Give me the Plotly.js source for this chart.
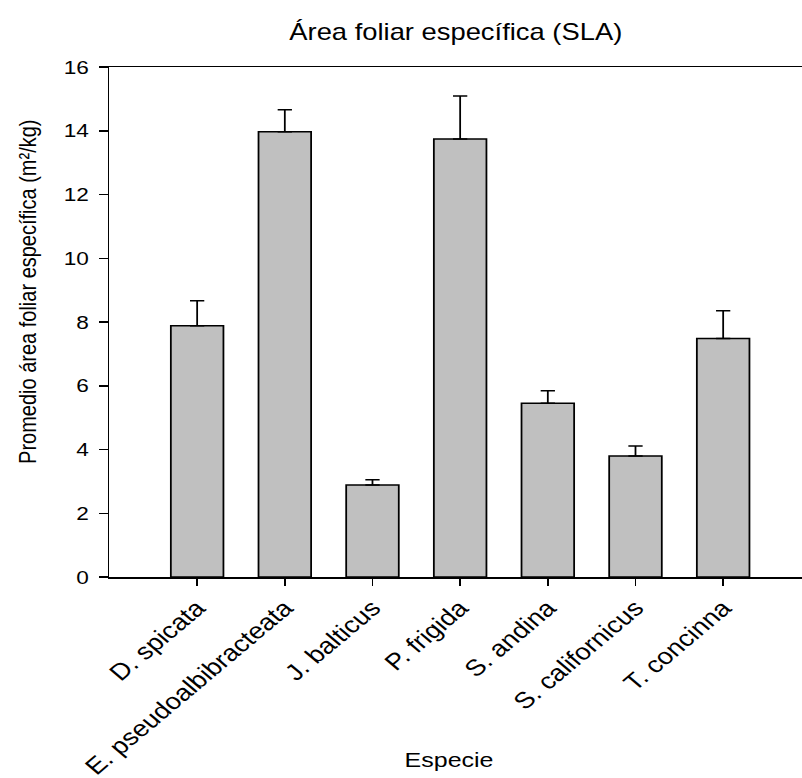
<!DOCTYPE html>
<html>
<head>
<meta charset="utf-8">
<script src="https://cdn.plot.ly/plotly-3.0.1.min.js"></script>
<style>
  html, body { margin: 0; padding: 0; background: #fff; overflow: hidden; }
  /* the figure is laid out narrower and widened horizontally, like the original export */
  #chart { width: 674px; height: 778px; transform: scaleX(1.19); transform-origin: 0 0; }
</style>
</head>
<body>
<div id="chart"></div>
<script>
// Species names (x categories)
const species = [
  "D. spicata",
  "E. pseudoalbibracteata",
  "J. balticus",
  "P. frigida",
  "S. andina",
  "S. californicus",
  "T. concinna"
];
// Mean specific leaf area (m2/kg)
const slaMean = [7.88, 13.97, 2.89, 13.74, 5.45, 3.80, 7.48];
// Upper error (standard error)
const slaError = [0.79, 0.69, 0.16, 1.35, 0.39, 0.31, 0.87];
// Y axis ticks
const yTicks = [0, 2, 4, 6, 8, 10, 12, 14, 16];

const FONT = "Liberation Sans, Arial, Helvetica, sans-serif";

const trace = {
  type: "bar",
  x: species,
  y: slaMean,
  width: 0.6,
  marker: { color: "#c0c0c0", line: { color: "#000000", width: 1.5 } },
  error_y: {
    type: "data",
    symmetric: false,
    array: slaError,
    arrayminus: slaMean.map(() => 0),
    color: "#000000",
    thickness: 1.5,
    width: 6
  },
  hoverinfo: "x+y"
};

const layout = {
  width: 674,
  height: 778,
  margin: { l: 92, r: 0, t: 67, b: 201, pad: 0 },
  paper_bgcolor: "#ffffff",
  plot_bgcolor: "#ffffff",
  showlegend: false,
  font: { family: FONT, color: "#000000" },
  title: {
    text: "Área foliar específica (SLA)",
    font: { family: FONT, size: 23, color: "#000000" },
    x: 0.5, xref: "paper", xanchor: "center",
    y: 1 - 32 / 778, yref: "container", yanchor: "middle"
  },
  xaxis: {
    type: "category",
    range: [-1, 6.9],
    showgrid: false,
    zeroline: false,
    showline: true,
    linecolor: "#000000",
    linewidth: 1.5,
    mirror: true,
    ticks: "outside",
    ticklen: 7,
    tickwidth: 1.5,
    tickcolor: "#000000",
    tickangle: -45,
    tickfont: { family: FONT, size: 23, color: "#000000" },
    fixedrange: true
  },
  yaxis: {
    range: [0, 16],
    tickvals: yTicks,
    showgrid: false,
    zeroline: false,
    showline: true,
    linecolor: "#000000",
    linewidth: 1.5,
    mirror: false,
    ticks: "outside",
    ticklen: 7,
    tickwidth: 1.5,
    tickcolor: "#000000",
    ticklabelstandoff: 5,
    tickfont: { family: FONT, size: 19, color: "#000000" },
    fixedrange: true
  },
  annotations: [
    {
      text: "Especie",
      xref: "paper", yref: "paper",
      x: 0.49, y: (577 - 759) / 510,
      xanchor: "center", yanchor: "middle",
      showarrow: false,
      font: { family: FONT, size: 21, color: "#000000" }
    },
    {
      text: "Promedio área foliar específica (m²/kg)",
      xref: "paper", yref: "paper",
      x: (23 - 92) / 582, y: (577 - 292) / 510,
      xanchor: "center", yanchor: "middle",
      textangle: -90,
      showarrow: false,
      font: { family: FONT, size: 20, color: "#000000" }
    }
  ]
};

Plotly.newPlot("chart", [trace], layout, { displayModeBar: false, staticPlot: true })
  .then(gd => {
    // drop the unused, empty axis-title nodes (axis titles are drawn as annotations)
    gd.querySelectorAll("text").forEach(t => {
      if (!t.textContent.trim()) t.remove();
    });
  });
</script>
</body>
</html>
